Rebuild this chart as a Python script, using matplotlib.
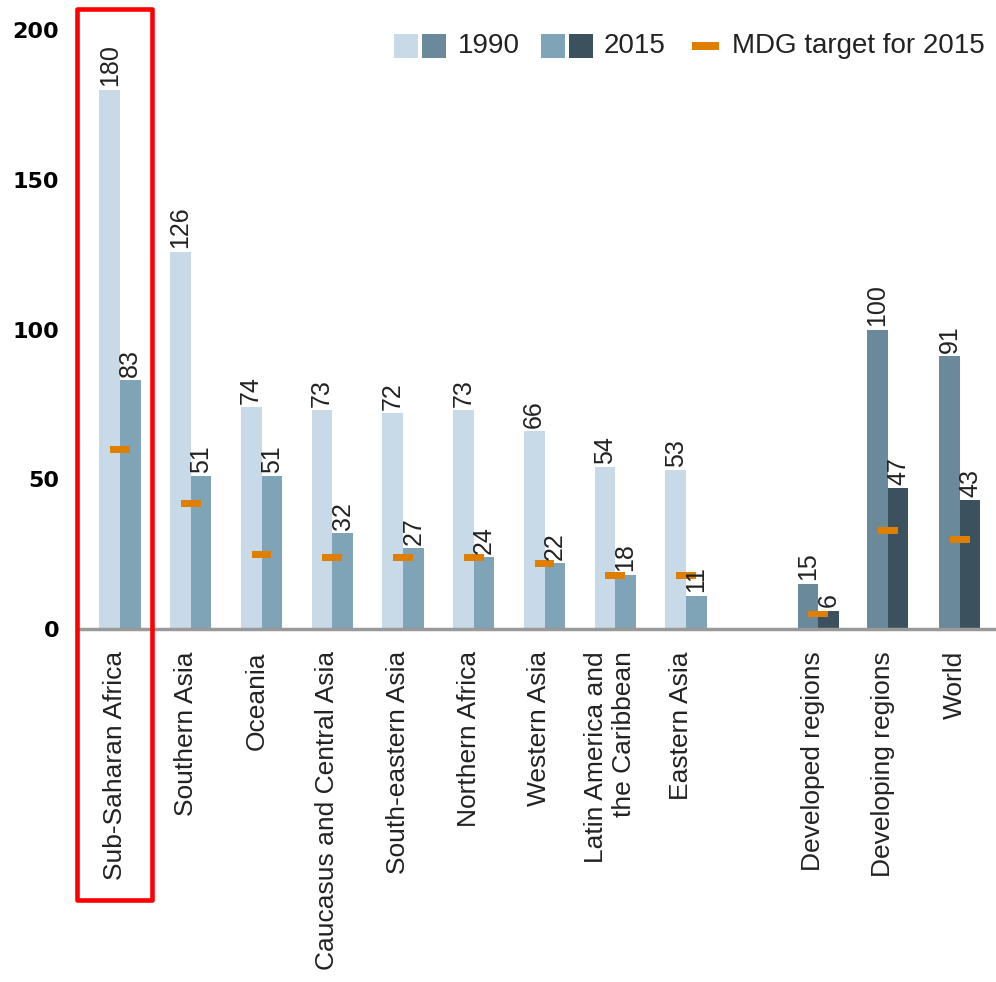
# Under-five mortality bar chart with MDG targets
import matplotlib
matplotlib.use('Agg')
import matplotlib.pyplot as plt
import matplotlib.transforms as mtransforms
from matplotlib.patches import Rectangle

# Data
regions = ['Sub-Saharan Africa', 'Southern Asia', 'Oceania',
           'Caucasus and Central Asia', 'South-eastern Asia', 'Northern Africa',
           'Western Asia', 'Latin America and\nthe Caribbean', 'Eastern Asia',
           'Developed regions', 'Developing regions', 'World']
v1990 = [180, 126, 74, 73, 72, 73, 66, 54, 53, 15, 100, 91]
v2015 = [83, 51, 51, 32, 27, 24, 22, 18, 11, 6, 47, 43]
target = [60, 42, 25, 24, 24, 24, 22, 18, 18, 5, 33, 30]
n_regional = 9  # first nine are regions, the rest aggregates

# layout
pos = [0, 1, 2, 3, 4, 5, 6, 7, 8, 9.87, 10.85, 11.87]
bw = 0.29

light90, light15 = '#c8dae7', '#7fa4b8'
dark90, dark15 = '#6a8a9b', '#3b525e'
orange = '#df7f00'

W, H = 996, 982
fig = plt.figure(figsize=(W / 100, H / 100), dpi=100)
ax = fig.add_axes([80 / W, 1 - 629 / H, 915 / W, 599 / H])

c90 = [light90] * n_regional + [dark90] * (len(regions) - n_regional)
c15 = [light15] * n_regional + [dark15] * (len(regions) - n_regional)

x90 = [p - bw / 2 for p in pos]
x15 = [p + bw / 2 for p in pos]
ax.bar(x90, v1990, width=bw, color=c90)
ax.bar(x15, v2015, width=bw, color=c15)

# MDG target marks, centred on the bar pair
ax.bar(pos, 2.3, bottom=[t - 1.15 for t in target], width=0.28, color=orange)

for x, v in zip(x90, v1990):
    ax.text(x, v + 1.2, str(v), rotation=90, ha='center', va='bottom',
            fontsize=18, family='Liberation Sans', color='#222222')
for x, v in zip(x15, v2015):
    ax.text(x, v + 1.2, str(v), rotation=90, ha='center', va='bottom',
            fontsize=18, family='Liberation Sans', color='#222222')

ax.axhline(0, color='#9a9a9a', lw=2.5, clip_on=False)

ax.set_xlim(-40 / 70.75, 875 / 70.75)
ax.set_ylim(0, 200)
for s in ax.spines.values():
    s.set_visible(False)

ax.set_yticks([0, 50, 100, 150, 200])
ax.tick_params(axis='y', length=0, pad=15)
for lab in ax.get_yticklabels():
    lab.set_fontfamily('DejaVu Sans')
    lab.set_fontweight('bold')
    lab.set_fontsize(16)

ax.set_xticks(pos)
ax.set_xticklabels(regions, rotation=90, ha='center', va='top',
                   fontsize=19, family='Liberation Sans', color='#222222')
ax.tick_params(axis='x', length=0, pad=16)
shift = mtransforms.ScaledTranslation(-5 / 100, 0, fig.dpi_scale_trans)
for lab in ax.get_xticklabels():
    lab.set_multialignment('right')
    lab.set_transform(lab.get_transform() + shift)


# legend drawn in pixel coordinates
def px_rect(x0, y0, x1, y1, color):
    fig.add_artist(Rectangle((x0 / W, 1 - y1 / H), (x1 - x0) / W, (y1 - y0) / H,
                             transform=fig.transFigure, color=color, lw=0))


px_rect(394, 34, 418, 58, light90)
px_rect(422, 34, 446, 58, dark90)
fig.text(458 / W, 1 - 46 / H, '1990', ha='left', va='center', fontsize=20,
         family='Liberation Sans', color='#222222')
px_rect(541, 34, 565, 58, light15)
px_rect(569, 34, 593, 58, dark15)
fig.text(604 / W, 1 - 46 / H, '2015', ha='left', va='center', fontsize=20,
         family='Liberation Sans', color='#222222')
px_rect(692, 42, 719, 50, orange)
fig.text(732 / W, 1 - 46 / H, 'MDG target for 2015', ha='left', va='center',
         fontsize=20, family='Liberation Sans', color='#222222')

# red highlight box round Sub-Saharan Africa
fig.add_artist(Rectangle((76.5 / W, 1 - 900 / H), 75 / W, 891 / H,
                         transform=fig.transFigure, fill=False,
                         edgecolor='#ff0000', lw=3.3, joinstyle='round'))

fig.savefig('out.png', dpi=100)
